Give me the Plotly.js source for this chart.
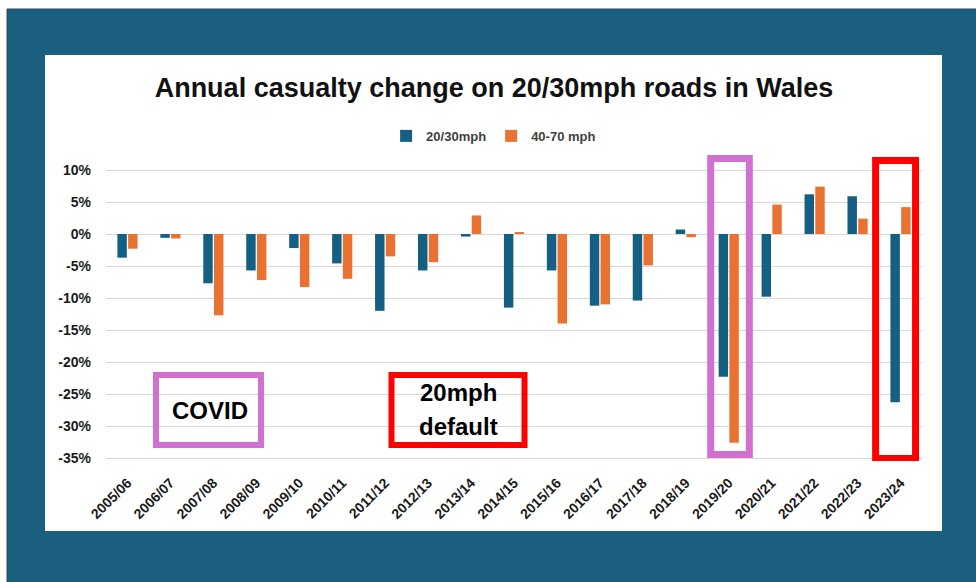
<!DOCTYPE html>
<html>
<head>
<meta charset="utf-8">
<script src="https://cdn.plot.ly/plotly-3.0.1.min.js"></script>
<style>
  html, body { margin: 0; padding: 0; background: #ffffff; }
  #chart { width: 976px; height: 582px; }
</style>
</head>
<body>
<div id="chart"></div>
<script>
// ---- Data (percent change in casualties) ----
const years = ["2005/06","2006/07","2007/08","2008/09","2009/10","2010/11","2011/12","2012/13","2013/14","2014/15","2015/16","2016/17","2017/18","2018/19","2019/20","2020/21","2021/22","2022/23","2023/24"];
const mph2030 = [-3.7, -0.6, -7.7, -5.7, -2.2, -4.6, -12.0, -5.7, -0.4, -11.5, -5.7, -11.2, -10.4, 0.7, -22.3, -9.8, 6.2, 5.9, -26.3];
const mph4070 = [-2.3, -0.7, -12.7, -7.2, -8.3, -7.0, -3.5, -4.4, 2.9, 0.3, -14.0, -11.0, -4.9, -0.5, -32.6, 4.6, 7.4, 2.4, 4.2];
const seriesNames = ["20/30mph", "40-70 mph"];
const yTickVals = [10, 5, 0, -5, -10, -15, -20, -25, -30, -35];
const yTickText = ["10%", "5%", "0%", "-5%", "-10%", "-15%", "-20%", "-25%", "-30%", "-35%"];
const titleText = "Annual casualty change on 20/30mph roads in Wales";
const noteCovid = "COVID";
const note20a = "20mph";
const note20b = "default";

// ---- Styles ----
const BLUE = "#156082";
const ORANGE = "#E97132";
const BG = "#1a5e80";
const VIOLET = "#d070d0";
const RED = "#ff0000";
const FONT = "Liberation Sans, Arial, sans-serif";

const traces = [
  { type: "bar", x: years, y: mph2030, name: seriesNames[0], marker: { color: BLUE } },
  { type: "bar", x: years, y: mph4070, name: seriesNames[1], marker: { color: ORANGE } }
];

const layout = {
  width: 976, height: 582,
  margin: { l: 106, r: 54, t: 152, b: 121, pad: 0 },
  paper_bgcolor: "#ffffff",
  plot_bgcolor: "rgba(0,0,0,0)",
  barmode: "group",
  bargap: 0.5,
  bargroupgap: 0.12,
  title: {
    text: titleText,
    font: { family: FONT, size: 27, color: "#111111", weight: "bold" },
    xref: "container", x: 494 / 976, xanchor: "center",
    yref: "container", y: 1 - 88 / 582, yanchor: "middle"
  },
  showlegend: true,
  legend: {
    orientation: "h",
    xref: "paper", x: 0.475, xanchor: "center",
    yref: "paper", y: 1.052, yanchor: "middle",
    font: { family: FONT, size: 13, color: "#404040", weight: "bold" },
    bgcolor: "rgba(0,0,0,0)",
    itemwidth: 30,
    traceorder: "normal"
  },
  xaxis: {
    type: "category",
    range: [-0.5, 18.5],
    tickangle: -45,
    showgrid: false,
    showline: false,
    zeroline: false,
    ticks: "",
    ticklabelstandoff: 10,
    tickfont: { family: FONT, size: 14, color: "#1a1a1a", weight: "bold" },
    fixedrange: true
  },
  yaxis: {
    range: [-35.46875, 12.8125],
    tickmode: "array",
    tickvals: yTickVals,
    ticktext: yTickText,
    showgrid: true,
    gridcolor: "#d9d9d9",
    gridwidth: 1,
    zeroline: false,
    showline: false,
    ticks: "",
    ticklabelstandoff: 14,
    tickfont: { family: FONT, size: 14, color: "#1a1a1a", weight: "bold" },
    fixedrange: true
  },
  shapes: [
    // outer dark-blue frame
    { type: "rect", xref: "paper", yref: "paper", layer: "below",
      x0: -0.12132, x1: 1.2, y0: -0.6, y1: 1.4628,
      fillcolor: BG, line: { color: "#2a4d60", width: 1 } },
    // white inner panel
    { type: "rect", xref: "paper", yref: "paper", layer: "below",
      x0: -0.07475, x1: 1.02451, y0: -0.22654, y1: 1.31392,
      fillcolor: "#ffffff", line: { width: 0 } },
    // COVID highlight around 2019/20
    { type: "rect", xref: "x", yref: "y", layer: "above",
      x0: 13.58, x1: 14.48, y0: -34.45, y1: 11.8,
      line: { color: VIOLET, width: 7 }, fillcolor: "rgba(0,0,0,0)" },
    // 20mph highlight around 2023/24
    { type: "rect", xref: "x", yref: "y", layer: "above",
      x0: 17.42, x1: 18.35, y0: -35.08, y1: 11.48,
      line: { color: RED, width: 7 }, fillcolor: "rgba(0,0,0,0)" },
    // COVID key box
    { type: "rect", xref: "x", yref: "y", layer: "above",
      x0: 0.664, x1: 3.109, y0: -32.97, y1: -22.03,
      line: { color: VIOLET, width: 6 }, fillcolor: "rgba(0,0,0,0)" },
    // 20mph default key box
    { type: "rect", xref: "x", yref: "y", layer: "above",
      x0: 6.148, x1: 9.245, y0: -32.97, y1: -22.03,
      line: { color: RED, width: 6 }, fillcolor: "rgba(0,0,0,0)" }
  ],
  annotations: [
    { xref: "x", yref: "y", x: 1.92, y: -27.6, text: noteCovid, showarrow: false,
      xanchor: "center", yanchor: "middle",
      font: { family: FONT, size: 24, color: "#000000", weight: "bold" } },
    { xref: "x", yref: "y", x: 7.70, y: -24.84, text: note20a, showarrow: false,
      xanchor: "center", yanchor: "middle",
      font: { family: FONT, size: 24, color: "#000000", weight: "bold" } },
    { xref: "x", yref: "y", x: 7.70, y: -30.0, text: note20b, showarrow: false,
      xanchor: "center", yanchor: "middle",
      font: { family: FONT, size: 24, color: "#000000", weight: "bold" } }
  ]
};

Plotly.newPlot("chart", traces, layout, { displayModeBar: false, staticPlot: true });
</script>
</body>
</html>
